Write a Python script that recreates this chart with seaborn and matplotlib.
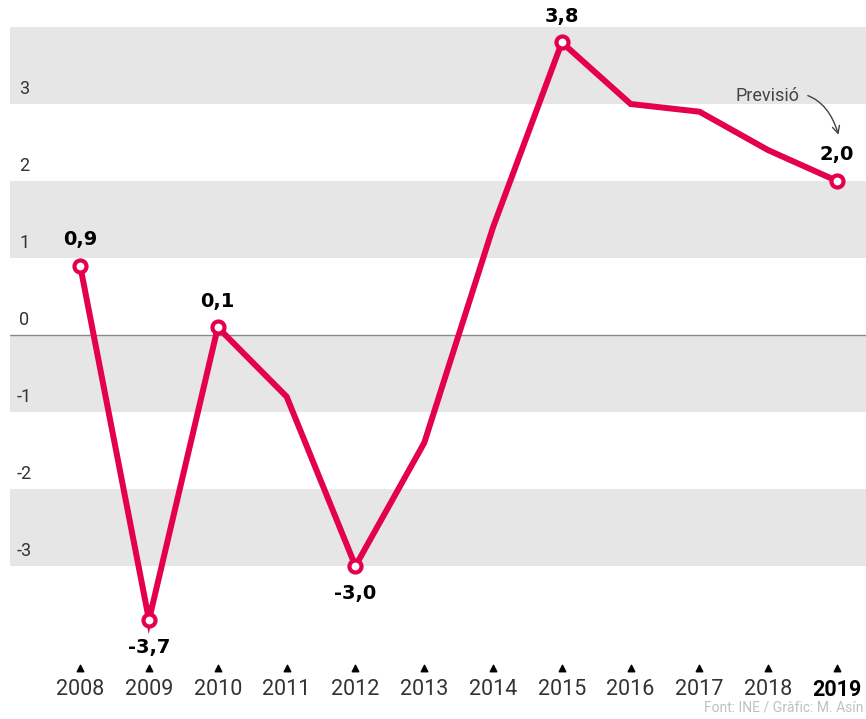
import pandas as pd
import matplotlib.pyplot as plt
import matplotlib.transforms as mtransforms
import seaborn as sns

# Creixement anual del PIB (%)
years = [2008, 2009, 2010, 2011, 2012, 2013, 2014, 2015, 2016, 2017, 2018, 2019]
growth = [0.9, -3.7, 0.1, -0.8, -3.0, -1.4, 1.4, 3.8, 3.0, 2.9, 2.4, 2.0]
labeled_years = [2008, 2009, 2010, 2012, 2015, 2019]
label_above = [True, False, True, False, True, True]
y_ticks = [-3, -2, -1, 0, 1, 2, 3]
bands = [(3, 4), (1, 2), (-1, 0), (-3, -2)]

df = pd.DataFrame({'year': years, 'growth': growth})
red = '#E4004B'

sns.set_style('white')
plt.rcParams['font.family'] = ['DejaVu Sans']

fig = plt.figure(figsize=(8.66, 7.19), dpi=100)
ax = fig.add_axes([10 / 866, 59 / 719, 856 / 866, 633 / 719])

for lo, hi in bands:
    ax.axhspan(lo, hi, color='#E6E6E6', lw=0, zorder=0)
ax.axhline(0, color='#8a8a8a', lw=1, zorder=1)

sns.lineplot(data=df, x='year', y='growth', color=red, lw=4.3, ax=ax, zorder=3,
             solid_joinstyle='miter')
pts = df[df['year'].isin(labeled_years)]
sns.scatterplot(data=pts, x='year', y='growth', s=75, facecolor='white',
                edgecolor=red, linewidth=3, ax=ax, zorder=4, clip_on=False)

for yr, above in zip(labeled_years, label_above):
    v = df.loc[df['year'] == yr, 'growth'].iloc[0]
    txt = f'{v:.1f}'.replace('.', ',')
    ax.annotate(txt, (yr, v), xytext=(0, 12 if above else -13), textcoords='offset points',
                ha='center', va='bottom' if above else 'top', fontsize=14,
                fontweight='bold', color='black', clip_on=False)

# etiquetes de l'eix Y, a l'esquerra sobre cada línia
trans = mtransforms.blended_transform_factory(ax.transAxes, ax.transData)
for t in y_ticks:
    ax.text(0.017, t + 0.08, str(t), transform=trans, ha='center', va='bottom',
            fontsize=13, color='#333333', family='Roboto')

ax.set_xlim(2006.98, 2019.42)
ax.set_ylim(-4.22, 4)
ax.set_xticks(years)
ax.set_xticklabels([str(y) for y in years], fontsize=15.5, color='#333333', family='Roboto')
ax.get_xticklabels()[-1].set_fontweight('bold')
ax.get_xticklabels()[-1].set_color('black')
ax.tick_params(axis='x', length=0, pad=14)
ax.set_yticks([])
ax.set_xlabel('')
ax.set_ylabel('')
sns.despine(ax=ax, left=True, bottom=True)

# triangles sobre els anys
xtrans = mtransforms.blended_transform_factory(ax.transData, ax.transAxes)
ax.scatter(years, [-0.013] * len(years), marker='^', s=22, color='black',
           transform=xtrans, clip_on=False, zorder=5)

ax.annotate('Previsió', xy=(2019.02, 2.6), xytext=(2018.45, 3.1), fontsize=13,
            color='#444444', family='Roboto', ha='right', va='center',
            arrowprops=dict(arrowstyle='->', color='#444444', lw=1,
                            connectionstyle='arc3,rad=-0.5', shrinkA=4, shrinkB=0))

fig.text(863 / 866, 11 / 719, 'Font: INE / Gràfic: M. Asín', fontsize=10,
         color='#c0c0c0', family='Roboto', ha='right', va='center')

plt.savefig('out.png', dpi=100)
plt.close()
